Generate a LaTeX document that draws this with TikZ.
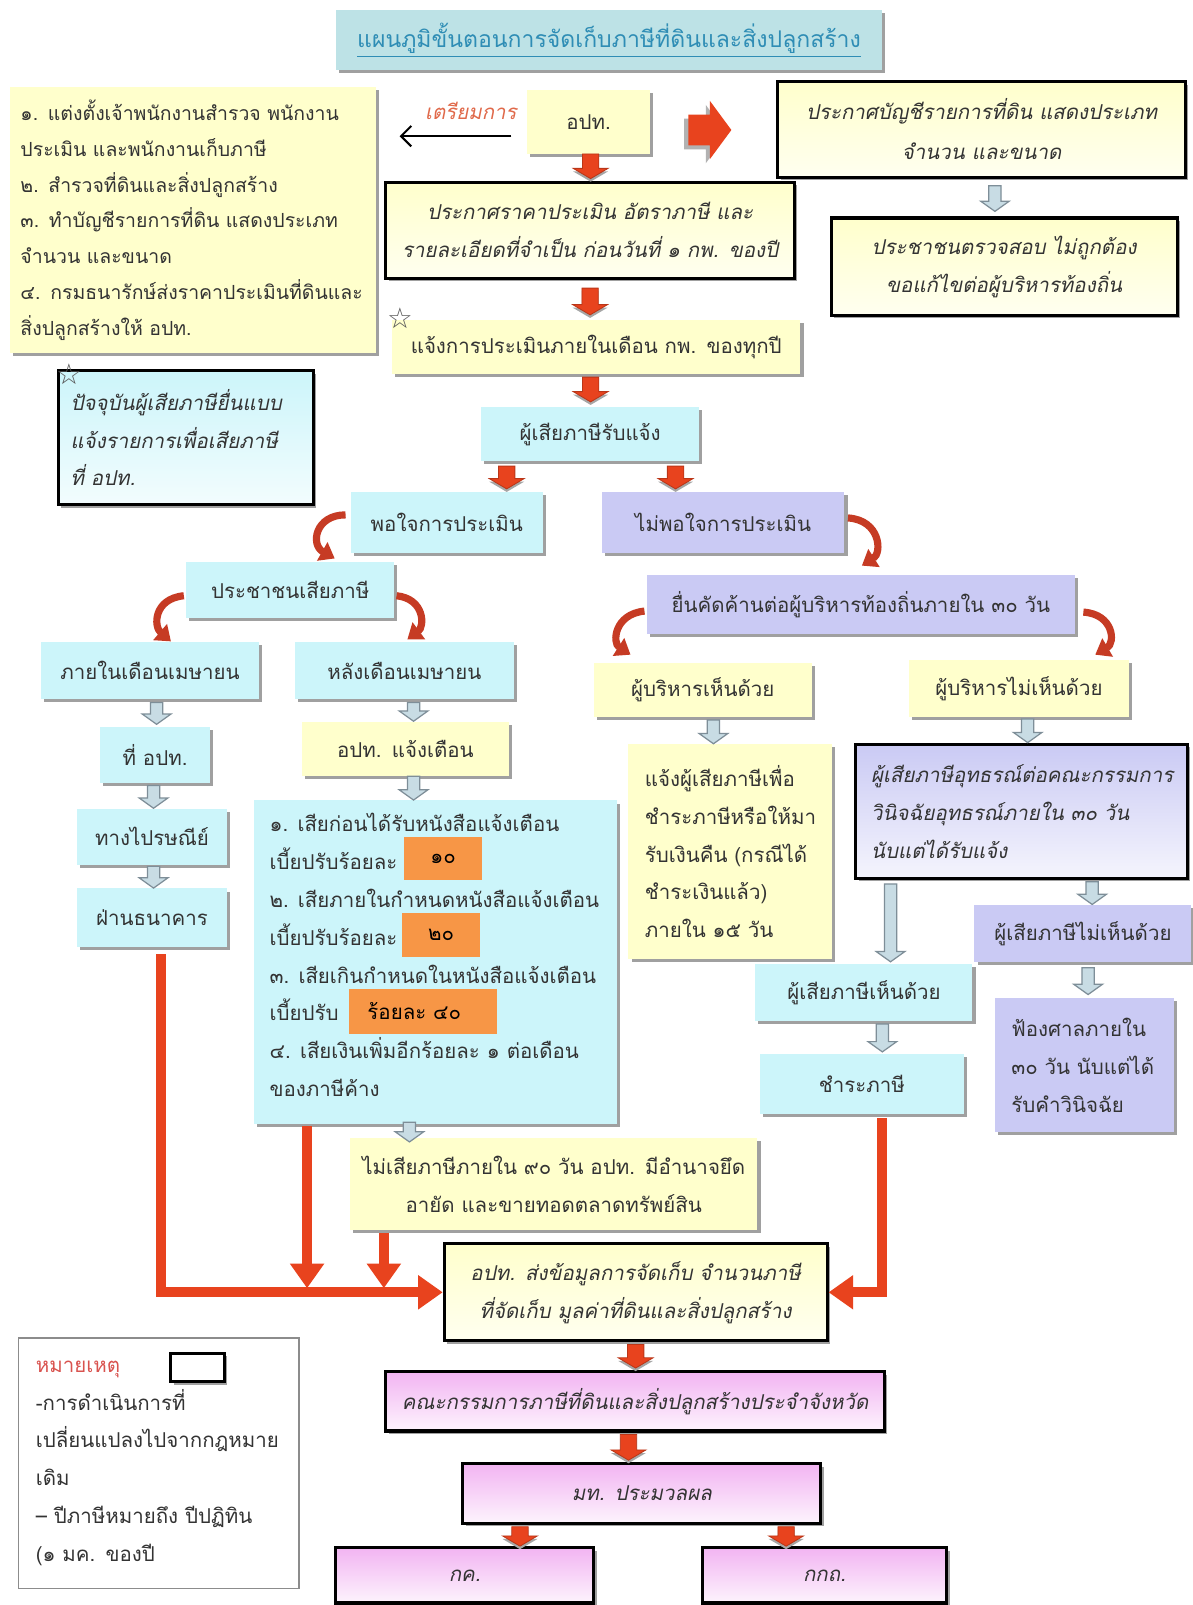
\documentclass[tikz,border=0pt]{standalone}
\usepackage{fontspec}
\setmainfont[Script=Thai]{Loma}
\newfontfamily\thit[Script=Thai,FakeSlant=0.2]{Loma}
\newfontfamily\symf{DejaVu Sans}
\usetikzlibrary{calc,shadows,arrows.meta}
\definecolor{yel}{HTML}{FFFFCC}
\definecolor{cyn}{HTML}{CCF5FA}
\definecolor{lav}{HTML}{CACAF4}
\definecolor{pnk}{HTML}{F2B4F2}
\definecolor{ttl}{HTML}{BDE2E6}
\definecolor{ttltext}{HTML}{2F8DB5}
\definecolor{txt}{HTML}{333333}
\definecolor{ared}{HTML}{E8431E}
\definecolor{cred}{HTML}{C63B24}
\definecolor{hfill}{HTML}{C8DCE4}
\definecolor{hdraw}{HTML}{7E8E98}
\definecolor{org}{HTML}{F79646}
\definecolor{prepred}{HTML}{E0694A}
\definecolor{legred}{HTML}{D9534F}
\definecolor{shdc}{HTML}{A0A0A0}
% name, style, x1, y1, x2, y2, pad(px), text
\newcommand\bx[8]{%
 \pgfmathsetmacro\bxw{(#5-#3-2*#7)*0.5}%
 \pgfmathsetmacro\bxh{(#6-#4)*0.5}%
 \pgfmathsetmacro\bxpad{#7*0.5}%
 \node[#2, inner xsep=\bxpad pt, text width=\bxw pt, minimum height=\bxh pt] (#1) at ({(#3+#5)/2},{(#4+#6)/2}) {#8};}
\begin{document}
\begin{tikzpicture}[x=0.5pt,y=-0.5pt,
 shd/.style={drop shadow={shadow xshift=1.5pt,shadow yshift=-1.5pt,fill=shdc,opacity=1}},
 bxbase/.style={shd, text=txt, inner ysep=0pt, font=\fontsize{10}{18.5}\selectfont},
 bxy/.style={bxbase, fill=yel},
 bxc/.style={bxbase, fill=cyn},
 bxl/.style={bxbase, fill=lav},
 bxt/.style={bxbase, draw=black, line width=1.5pt, font=\thit\fontsize{10}{18.5}\selectfont},
 bxty/.style={bxt, top color=yel, bottom color=yel!30},
 bxtc/.style={bxt, top color=cyn, bottom color=cyn!25},
 bxtl/.style={bxt, top color=lav, bottom color=lav!20},
 bxtp/.style={bxt, top color=pnk, bottom color=pnk!15},
 bxtitle/.style={shd, fill=ttl, text=ttltext, inner ysep=0pt, font=\fontsize{11.25}{14}\selectfont},
 bxor/.style={fill=org, inner ysep=0pt, text=black, font=\fontsize{10}{12}\selectfont},
 bxleg/.style={draw=black!45, line width=0.7pt, fill=white, text=txt, inner ysep=0pt, font=\fontsize{10}{18.5}\selectfont},
 vblk/.style n args={3}{to path={let \p1=(\tikztostart), \p2=(\tikztotarget) in
   (\x1-#1,\y1) -- (\x1+#1,\y1) -- (\x1+#1,\y2+#3) -- (\x1+#2,\y2+#3) -- (\x1,\y2)
   -- (\x1-#2,\y2+#3) -- (\x1-#1,\y2+#3) -- cycle}},
 hol/.style={vblk={3pt}{7pt}{5pt}, fill=hfill, draw=hdraw, line width=0.6pt},
 rbk/.style={vblk={4pt}{8.5pt}{5pt}, fill=ared, draw=ared!80!black, line width=0.4pt,
   drop shadow={shadow xshift=0pt,shadow yshift=-1.5pt,fill=gray!70,opacity=1}},
 hblk/.style={to path={let \p1=(\tikztostart), \p2=(\tikztotarget) in
   (\x1,\y1-7.5pt) -- (\x2-10.5pt,\y1-7.5pt) -- (\x2-10.5pt,\y1-14.25pt) -- (\x2,\y1)
   -- (\x2-10.5pt,\y1+14.25pt) -- (\x2-10.5pt,\y1+7.5pt) -- (\x1,\y1+7.5pt) -- cycle}},
 rline/.style={draw=ared, line width=5pt, -{Triangle[width=16pt,length=12pt]}},
 curv/.style={draw=cred, line width=3.5pt, -{Triangle[width=10pt,length=7pt]}},
]
\fill[white] (0,0) rectangle (1165,1568);
\useasboundingbox (0,0) rectangle (1165,1568);

% ---------- boxes ----------
\bx{title}{bxtitle, align=center}{328}{10}{862}{68}{0}{\underline{แผนภูมิขั้นตอนการจัดเก็บภาษีที่ดินและสิ่งปลูกสร้าง}}
\bx{prep}{bxy, align=left, font=\fontsize{9.5}{17.5}\selectfont}{10}{85}{367}{345}{10}{๑. แต่งตั้งเจ้าพนักงานสำรวจ พนักงาน\\ประเมิน และพนักงานเก็บภาษี\\๒. สำรวจที่ดินและสิ่งปลูกสร้าง\\๓. ทำบัญชีรายการที่ดิน แสดงประเภท\\จำนวน และขนาด\\๔. กรมธนารักษ์ส่งราคาประเมินที่ดินและ\\สิ่งปลูกสร้างให้ อปท.}
\bx{opt}{bxy, align=center}{515}{88}{635}{150}{0}{อปท.}
\bx{annc}{bxty, align=center, font=\thit\fontsize{10}{19.5}\selectfont}{760}{80}{1158}{173}{0}{ประกาศบัญชีรายการที่ดิน แสดงประเภท\\จำนวน และขนาด}
\bx{check}{bxty, align=center}{812}{213}{1150}{308}{0}{ประชาชนตรวจสอบ ไม่ถูกต้อง\\ขอแก้ไขต่อผู้บริหารท้องถิ่น}
\bx{price}{bxty, align=center}{377}{178}{776}{272}{0}{ประกาศราคาประเมิน อัตราภาษี และ\\รายละเอียดที่จำเป็น ก่อนวันที่ ๑ กพ. ของปี}
\bx{notify}{bxy, align=center}{383}{313}{782}{365}{0}{แจ้งการประเมินภายในเดือน กพ. ของทุกปี}
\bx{now}{bxtc, align=left}{57}{362}{306}{493}{12}{ปัจจุบันผู้เสียภาษียื่นแบบ\\แจ้งรายการเพื่อเสียภาษี\\ที่ อปท.}
\bx{rcv}{bxc, align=center}{470}{398}{683}{450}{0}{ผู้เสียภาษีรับแจ้ง}
\bx{sat}{bxc, align=center}{343}{481}{530}{540}{0}{พอใจการประเมิน}
\bx{unsat}{bxl, align=center}{588}{481}{825}{540}{0}{ไม่พอใจการประเมิน}
\bx{payer}{bxc, align=center}{182}{549}{385}{604}{0}{ประชาชนเสียภาษี}
\bx{inapr}{bxc, align=center}{40}{627}{253}{683}{0}{ภายในเดือนเมษายน}
\bx{aftapr}{bxc, align=center}{288}{627}{502}{683}{0}{หลังเดือนเมษายน}
\bx{obj}{bxl, align=center}{632}{562}{1050}{619}{0}{ยื่นคัดค้านต่อผู้บริหารท้องถิ่นภายใน ๓๐ วัน}
\bx{exyes}{bxy, align=center}{580}{648}{793}{700}{0}{ผู้บริหารเห็นด้วย}
\bx{exno}{bxy, align=center}{888}{645}{1103}{700}{0}{ผู้บริหารไม่เห็นด้วย}
\bx{atopt}{bxc, align=center}{98}{710}{205}{765}{0}{ที่ อปท.}
\bx{post}{bxc, align=center}{75}{790}{222}{845}{0}{ทางไปรษณีย์}
\bx{bank}{bxc, align=center}{75}{868}{222}{925}{0}{ฝ่านธนาคาร}
\bx{warn}{bxy, align=center}{295}{705}{497}{758}{0}{อปท. แจ้งเตือน}
\bx{pen}{bxc, align=left}{248}{782}{603}{1098}{0}{}
\node[anchor=west, align=left, inner sep=0pt, text=txt, font=\fontsize{10}{18.5}\selectfont] (pentxt) at (263,933) {๑. เสียก่อนได้รับหนังสือแจ้งเตือน\\เบี้ยปรับร้อยละ\\๒. เสียภายในกำหนดหนังสือแจ้งเตือน\\เบี้ยปรับร้อยละ\\๓. เสียเกินกำหนดในหนังสือแจ้งเตือน\\เบี้ยปรับ\\๔. เสียเงินเพิ่มอีกร้อยละ ๑ ต่อเดือน\\ของภาษีค้าง};
\bx{o1}{bxor, align=center}{395}{818}{471}{860}{0}{๑๐}
\bx{o2}{bxor, align=center}{393}{892}{469}{935}{0}{๒๐}
\bx{o3}{bxor, align=left}{341}{966}{486}{1010}{18}{ร้อยละ ๔๐}
\bx{refund}{bxy, align=left}{614}{727}{813}{937}{16}{แจ้งผู้เสียภาษีเพื่อ\\ชำระภาษีหรือให้มา\\รับเงินคืน (กรณีได้\\ชำระเงินแล้ว)\\ภายใน ๑๕ วัน}
\bx{appeal}{bxtl, align=left}{836}{727}{1160}{858}{15}{ผู้เสียภาษีอุทธรณ์ต่อคณะกรรมการ\\วินิจฉัยอุทธรณ์ภายใน ๓๐ วัน\\นับแต่ได้รับแจ้ง}
\bx{agree}{bxc, align=center}{738}{942}{950}{997}{0}{ผู้เสียภาษีเห็นด้วย}
\bx{disagree}{bxl, align=center}{952}{884}{1164}{940}{0}{ผู้เสียภาษีไม่เห็นด้วย}
\bx{pay}{bxc, align=center}{742}{1030}{942}{1088}{0}{ชำระภาษี}
\bx{court}{bxl, align=left}{972}{975}{1147}{1106}{16}{ฟ้องศาลภายใน\\๓๐ วัน นับแต่ได้\\รับคำวินิจฉัย}
\bx{seize}{bxy, align=center}{342}{1112}{740}{1202}{0}{ไม่เสียภาษีภายใน ๙๐ วัน อปท. มีอำนาจยึด\\อายัด และขายทอดตลาดทรัพย์สิน}
\bx{collect}{bxty, align=center}{434}{1215}{808}{1310}{0}{อปท. ส่งข้อมูลการจัดเก็บ จำนวนภาษี\\ที่จัดเก็บ มูลค่าที่ดินและสิ่งปลูกสร้าง}
\bx{prov}{bxtp, align=center}{377}{1340}{864}{1398}{0}{คณะกรรมการภาษีที่ดินและสิ่งปลูกสร้างประจำจังหวัด}
\bx{moi}{bxtp, align=center}{452}{1430}{802}{1488}{0}{มท. ประมวลผล}
\bx{fin}{bxtp, align=center}{328}{1512}{580}{1566}{0}{กค.}
\bx{dla}{bxtp, align=center}{686}{1512}{925}{1566}{0}{กกถ.}
\bx{legend}{bxleg, align=left}{18}{1307}{292}{1552}{17}{{\color{legred}หมายเหตุ}\\-การดำเนินการที่\\เปลี่ยนแปลงไปจากกฎหมาย\\เดิม\\-- ปีภาษีหมายถึง ปีปฏิทิน\\(๑ มค. ของปี}
\node[draw=black, line width=1.5pt, fill=white, shd, minimum width=26pt, minimum height=14pt] (legsym) at (193,1336) {};

\node[font=\symf\fontsize{14}{14}\selectfont, text=black!65] (star1) at (391,311) {☆};
\node[font=\symf\fontsize{14}{14}\selectfont, text=black!65] (star2) at (68,366) {☆};
\node[font=\thit\fontsize{10}{12}\selectfont, text=prepred] (preplbl) at (460,108) {เตรียมการ};

% ---------- connectors ----------
\coordinate (a1) at ([yshift=-7pt]opt.west);
\draw[line width=1pt, -{Straight Barb[length=5pt,width=10pt]}, shorten <=7.5pt, shorten >=11.5pt] (a1) -- (a1 -| prep.east);
\draw[hblk, fill=ared, draw=none, drop shadow={shadow xshift=-2pt,shadow yshift=-2pt,fill=gray!60,opacity=1}] ([xshift=18.5pt,yshift=-4pt]opt.east) to ([xshift=-22pt]annc.west);

% red block arrows
\draw[rbk] ([xshift=1pt]opt.south) to ([xshift=1pt,yshift=1pt]price.north);
\draw[rbk] ([yshift=-4pt]price.south) to ([yshift=2.5pt]notify.north);
\draw[rbk] ([xshift=-2.75pt,yshift=-1.5pt]notify.south) to ([yshift=2.5pt]rcv.north);
\draw[rbk] ([xshift=-40.75pt,yshift=-2.5pt]rcv.south) to ([yshift=1.5pt]sat.north);
\draw[rbk] ([xshift=41.75pt,yshift=-2.5pt]rcv.south) to ([yshift=1.5pt]unsat.north);
\draw[rbk] ([yshift=-1pt]collect.south) to ([yshift=1pt]prov.north);
\draw[rbk] ([xshift=-3.25pt,yshift=-1pt]prov.south) to ([yshift=1pt]moi.north);
\draw[rbk] ([xshift=-59.5pt,yshift=-1pt]moi.south) to ([yshift=0pt]fin.north);
\draw[rbk] ([xshift=70.5pt,yshift=-1pt]moi.south) to ([yshift=0pt]dla.north);

% hollow arrows
\draw[hol] ([xshift=6.5pt,yshift=-3.5pt]annc.south) to ([yshift=2.5pt]check.north);
\draw[hol] ([xshift=3.25pt,yshift=-1.5pt]inapr.south) to ([yshift=1pt]atopt.north);
\draw[hol] ([xshift=-0.75pt,yshift=-1pt]atopt.south) to (post.north);
\draw[hol] ([xshift=0.75pt,yshift=-0.5pt]post.south) to (bank.north);
\draw[hol] ([xshift=4.5pt,yshift=-1.5pt]aftapr.south) to (warn.north);
\draw[hol] ([xshift=4pt]warn.south) to (pen.north);
\draw[hol] ([xshift=5.25pt,yshift=-1.5pt]exyes.south) to (refund.north);
\draw[hol] ([xshift=4.25pt,yshift=-1pt]exno.south) to (appeal.north);
\draw[hol] ([xshift=-64pt,yshift=-2pt]appeal.south) to ([yshift=1pt]agree.north);
\draw[hol] ([xshift=34.5pt,yshift=-1pt]appeal.south) to (disagree.north);
\draw[hol] ([xshift=9pt,yshift=-1.5pt]agree.south) to ([yshift=1pt]pay.north);
\draw[hol] ([xshift=2.5pt,yshift=-2.5pt]disagree.south) to ([yshift=1.5pt]court.north);
\draw[hol] ([xshift=-12.75pt,yshift=1pt]pen.south) to ([yshift=-2pt]seize.north);

% red lines to collect
\draw[rline] ([xshift=4.25pt,yshift=-3.5pt]bank.south) |- (collect.west);
\coordinate (s2) at ([xshift=-62.75pt,yshift=-1pt]pen.south);
\draw[rline] (s2) -- ([yshift=2pt]s2 |- collect.west);
\coordinate (s3) at ([xshift=-83pt,yshift=-1pt]seize.south);
\draw[rline] (s3) -- ([yshift=2pt]s3 |- collect.west);
\draw[rline] ([xshift=10pt,yshift=-2pt]pay.south) |- (collect.east);

% curved arrows
\draw[curv] ([shift={(-2.5pt,3.75pt)}]sat.west) .. controls (308,503) and (303,532) .. ([shift={(21.75pt,1.5pt)}]payer.north);
\draw[curv] ([shift={(1.5pt,2.25pt)}]unsat.east) .. controls (860,508) and (862,540) .. ([shift={(0.5pt,4.5pt)}]obj.north);
\draw[curv] ([shift={(-1pt,-2.75pt)}]payer.west) .. controls (150,585) and (150,612) .. ([shift={(10.25pt,0pt)}]inapr.north);
\draw[curv] ([shift={(1pt,-2.75pt)}]payer.east) .. controls (415,585) and (415,612) .. ([shift={(1.5pt,1pt)}]aftapr.north);
\draw[curv] ([shift={(-1pt,-3.25pt)}]obj.west) .. controls (600,600) and (598,628) .. ([shift={(-35.25pt,4pt)}]exyes.north);
\draw[curv] ([shift={(4pt,-3.75pt)}]obj.east) .. controls (1088,600) and (1090,628) .. ([shift={(37.25pt,2.5pt)}]exno.north);
\end{tikzpicture}
\end{document}
